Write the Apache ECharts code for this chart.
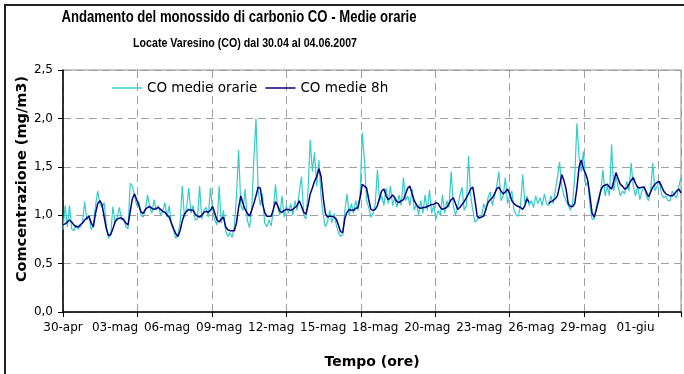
<!DOCTYPE html>
<html>
<head>
<meta charset="utf-8">
<script src="https://cdn.jsdelivr.net/npm/echarts@6/dist/echarts.min.js"></script>
<style>
html, body { margin: 0; padding: 0; background: #fff; }
#chart { width: 684px; height: 374px; }
</style>
</head>
<body>
<div id="chart"></div>
<script>
// un valore ogni 3 ore, a partire dal 30-apr 00:00
const stepOre = 3
const oreTotali = 855
const passoEtichette = 72
const passoGriglia = 103

const tickLabels = ['30-apr', '03-mag', '06-mag', '09-mag', '12-mag', '15-mag',
  '18-mag', '20-mag', '23-mag', '26-mag', '29-mag', '01-giu']

const yTicks = [0, 0.5, 1.0, 1.5, 2.0, 2.5]

// CO medie orarie (mg/m3)
const coOrarie = [
  0.85, 1.10, 0.88, 1.10, 0.86, 0.84, 0.90, 0.86,
  0.88, 0.93, 1.14, 0.95, 1.00, 0.85, 0.90, 1.10,
  1.25, 1.12, 1.08, 1.13, 0.88, 0.76, 0.80, 1.09,
  0.92, 0.98, 1.08, 0.95, 0.97, 0.88, 0.86, 1.33,
  1.30, 1.20, 1.10, 1.14, 1.00, 0.98, 1.05, 1.21,
  1.08, 1.02, 1.16, 1.05, 1.10, 1.00, 1.04, 1.13,
  0.98, 1.10, 0.90, 0.85, 0.76, 0.80, 0.92, 1.30,
  0.98, 1.08, 1.28, 1.02, 1.10, 0.95, 0.96, 1.30,
  0.96, 1.05, 1.08, 0.98, 1.28, 1.06, 0.95, 0.90,
  1.30, 0.92, 1.05, 0.84, 0.78, 0.82, 0.77, 0.88,
  1.20, 1.67, 1.10, 1.05, 1.27, 0.95, 0.87, 1.05,
  1.57, 2.00, 1.25, 1.10, 1.22, 0.92, 0.88, 0.95,
  0.89, 1.05, 1.32, 1.08, 1.00, 1.20, 0.98, 1.10,
  1.02, 1.12, 1.00, 1.15, 1.05, 1.25, 1.40, 1.00,
  0.96, 1.25, 1.78, 1.45, 1.65, 1.30, 1.57, 1.20,
  1.00, 0.88, 0.93, 1.05, 0.92, 1.02, 0.90, 0.82,
  0.78, 0.80, 1.05, 1.22, 1.00, 1.12, 1.02, 1.15,
  1.05, 1.20, 1.85, 1.57, 1.15, 1.08, 0.98, 1.02,
  1.12, 1.47, 1.15, 1.20, 1.10, 1.28, 1.12, 1.30,
  1.10, 1.18, 1.08, 1.21, 1.10, 1.39, 1.15, 1.20,
  1.10, 1.27, 1.05, 1.12, 1.00, 1.15, 1.02, 1.21,
  1.05, 1.26, 1.02, 1.10, 0.96, 1.05, 1.00, 1.21,
  1.02, 1.15, 1.08, 1.45, 1.10, 1.00, 1.08, 1.20,
  1.29, 1.05, 1.10, 1.61, 1.20, 1.05, 0.93, 0.95,
  1.00, 0.98, 1.12, 1.05, 1.18, 1.24, 1.10, 1.20,
  1.30, 1.45, 1.15, 1.20, 1.39, 1.12, 1.20, 1.25,
  1.05, 1.00, 0.99, 1.10, 1.42, 1.12, 1.20, 1.10,
  1.15, 1.08, 1.20, 1.12, 1.18, 1.10, 1.22, 1.12,
  1.10, 1.20, 1.12, 1.25, 1.39, 1.55, 1.30, 1.20,
  1.15, 1.10, 1.05, 1.12, 1.40, 1.95, 1.60, 1.45,
  1.66, 1.30, 1.35, 1.10, 0.96, 0.96, 1.10, 1.18,
  1.25, 1.47, 1.20, 1.30, 1.20, 1.73, 1.25, 1.40,
  1.30, 1.20, 1.25, 1.22, 1.35, 1.25, 1.54, 1.30,
  1.20, 1.30, 1.16, 1.25, 1.30, 1.20, 1.15, 1.25,
  1.54, 1.25, 1.30, 1.35, 1.22, 1.18, 1.20, 1.15,
  1.15, 1.25, 1.20, 1.18, 1.30, 1.39
]

// CO medie mobili su 8 ore (mg/m3), null = dato mancante
const coMedie8h = [
  0.90, 0.91, 0.93, 0.95, 0.93, 0.90, 0.88, 0.88,
  0.90, 0.92, 0.95, 0.97, 0.99, 0.92, 0.88, 1.02,
  1.12, 1.15, 1.11, 0.98, 0.86, 0.79, 0.80, 0.86,
  0.93, 0.96, 0.97, 0.97, 0.95, 0.92, 0.90, 1.04,
  1.17, 1.22, 1.16, 1.10, 1.03, 1.02, 1.06, 1.08,
  1.09, 1.07, 1.06, 1.07, 1.08, 1.06, 1.04, 1.03,
  1.00, 0.98, 0.92, 0.86, 0.81, 0.78, 0.84, 0.94,
  1.01, 1.04, 1.06, 1.05, 1.05, 1.01, 0.99, 0.98,
  1.00, 1.03, 1.04, 1.03, 1.05, 1.09, 1.02, 0.95,
  0.93, 0.96, 0.98, 0.88, 0.85, 0.84, 0.84, 0.84,
  0.92, 1.08, 1.20, 1.12, 1.06, 1.02, 0.99, 1.05,
  1.12, 1.20, 1.29, 1.28, 1.12, 1.03, 0.99, 0.99,
  0.99, 1.06, 1.14, 1.10, 1.04, 1.03, 1.05, 1.06,
  1.06, 1.05, 1.06, 1.08, 1.10, 1.15, 1.09, 1.03,
  1.01, 1.10, 1.22, 1.28, 1.35, 1.40, 1.48, 1.40,
  1.18, 1.02, 0.98, 0.99, 0.99, 0.98, 0.96, 0.90,
  0.83, 0.82, 0.97, 1.03, 1.06, 1.05, 1.05, 1.07,
  1.08, 1.18, 1.32, 1.30, 1.28, 1.16, 1.06, 1.05,
  1.06, 1.10, 1.18, 1.25, 1.27, 1.20, 1.16, 1.18,
  1.21, 1.18, 1.14, 1.13, 1.15, 1.16, 1.22, 1.28,
  1.30, 1.22, 1.15, 1.11, 1.08, 1.07, 1.08, 1.08,
  1.09, 1.10, 1.11, 1.11, 1.13, 1.12, 1.08, 1.06,
  1.07, 1.08, 1.12, 1.16, 1.18, 1.12, 1.06, 1.08,
  1.11, 1.14, 1.18, 1.22, 1.27, 1.29, 1.15, 0.99,
  0.97, 0.98, 0.99, 1.06, 1.13, 1.16, 1.18, 1.22,
  1.27, 1.29, 1.25, 1.22, 1.24, 1.27, 1.22, 1.15,
  1.12, 1.10, 1.09, 1.08, 1.06, 1.10, 1.17, 1.13,
  null, null, null, null, null, null, null, null,
  1.12, 1.14, 1.15, 1.17, 1.20, 1.30, 1.42, 1.36,
  1.27, 1.12, 1.09, 1.09, 1.12, 1.28, 1.50, 1.57,
  1.48, 1.43, 1.36, 1.20, 1.02, 0.98, 1.06, 1.15,
  1.26, 1.30, 1.31, 1.32, 1.29, 1.27, 1.35, 1.44,
  1.38, 1.32, 1.30, 1.27, 1.28, 1.32, 1.36, 1.39,
  1.33, 1.29, 1.28, 1.29, 1.29, 1.24, 1.19, 1.24,
  1.29, 1.32, 1.34, 1.35, 1.30, 1.25, 1.22, 1.21,
  1.20, 1.20, 1.22, 1.25, 1.27, 1.23
]

const toPairs = arr => arr.map((v, i) => [i * stepOre, v])

const chart = echarts.init(document.getElementById('chart'))

// testo stretto (il font originale è più condensato)
const testoStretto = (testo, x, y, size) => ({
  type: 'text',
  x: x,
  y: y,
  scaleX: 0.82,
  silent: true,
  style: {
    text: testo,
    fill: '#000',
    font: 'bold ' + size + 'px "Liberation Sans"',
    align: 'center',
    verticalAlign: 'middle'
  }
})

const option = {
  animation: false,
  backgroundColor: '#fff',
  legend: {
    left: 112,
    top: 81,
    padding: 0,
    icon: 'rect',
    itemWidth: 30,
    itemHeight: 1.5,
    itemGap: 8,
    textStyle: { fontFamily: 'DejaVu Sans', fontSize: 13.5, color: '#000' },
    data: ['CO medie orarie', 'CO medie 8h']
  },
  grid: {
    left: 63,
    right: 1,
    top: 70,
    bottom: 61,
    show: true,
    borderColor: '#8c8c8c',
    borderWidth: 1
  },
  xAxis: [
    {
      type: 'value',
      min: 0,
      max: oreTotali,
      interval: passoEtichette,
      name: 'Tempo (ore)',
      nameLocation: 'middle',
      nameGap: 43,
      nameTextStyle: { fontFamily: 'DejaVu Sans', fontWeight: 'bold', fontSize: 14, color: '#000' },
      axisLine: { lineStyle: { color: '#000', width: 1.5 } },
      axisTick: { show: false },
      splitLine: { show: false },
      axisLabel: {
        color: '#000',
        fontFamily: 'DejaVu Sans',
        fontSize: 12,
        margin: 10,
        formatter: v => tickLabels[Math.round(v / passoEtichette)] || ''
      }
    },
    {
      type: 'value',
      min: 0,
      max: oreTotali,
      interval: passoGriglia,
      position: 'bottom',
      axisLine: { show: false },
      axisTick: { show: true, length: 5, lineStyle: { color: '#000' } },
      axisLabel: { show: false },
      splitLine: { show: true, lineStyle: { color: '#a0a0a0', width: 1, type: [8, 5] } }
    }
  ],
  yAxis: {
    type: 'value',
    min: yTicks[0],
    max: yTicks[yTicks.length - 1],
    interval: 0.5,
    axisLine: { show: true, lineStyle: { color: '#000', width: 1.5 } },
    axisTick: { show: true, length: 5, lineStyle: { color: '#000' } },
    axisLabel: {
      color: '#000',
      fontFamily: 'DejaVu Sans',
      fontSize: 12,
      margin: 10,
      formatter: v => v.toFixed(1).replace('.', ',')
    },
    splitLine: { show: true, lineStyle: { color: '#a0a0a0', width: 1, type: [8, 5] } }
  },
  graphic: [
    {
      type: 'rect',
      shape: { x: 5, y: 5, width: 700, height: 400 },
      style: { fill: 'none', stroke: '#222', lineWidth: 2 },
      silent: true
    },
    testoStretto('Andamento del monossido di carbonio CO - Medie orarie', 239, 18, 16),
    testoStretto('Locate Varesino (CO) dal 30.04 al 04.06.2007', 245, 43, 13),
    {
      type: 'text',
      x: 22,
      y: 179,
      rotation: Math.PI / 2,
      silent: true,
      style: {
        text: 'Comcentrazione (mg/m3)',
        fill: '#000',
        font: 'bold 14.5px "DejaVu Sans"',
        align: 'center',
        verticalAlign: 'middle'
      }
    }
  ],
  series: [
    {
      name: 'CO medie orarie',
      type: 'line',
      xAxisIndex: 0,
      data: toPairs(coOrarie),
      symbol: 'none',
      lineStyle: { color: '#33cccc', width: 1.2 },
      itemStyle: { color: '#33cccc' }
    },
    {
      name: 'CO medie 8h',
      type: 'line',
      xAxisIndex: 0,
      data: toPairs(coMedie8h),
      symbol: 'none',
      connectNulls: false,
      lineStyle: { color: '#000080', width: 1.5 },
      itemStyle: { color: '#000080' }
    }
  ]
}

chart.setOption(option)
</script>
</body>
</html>
